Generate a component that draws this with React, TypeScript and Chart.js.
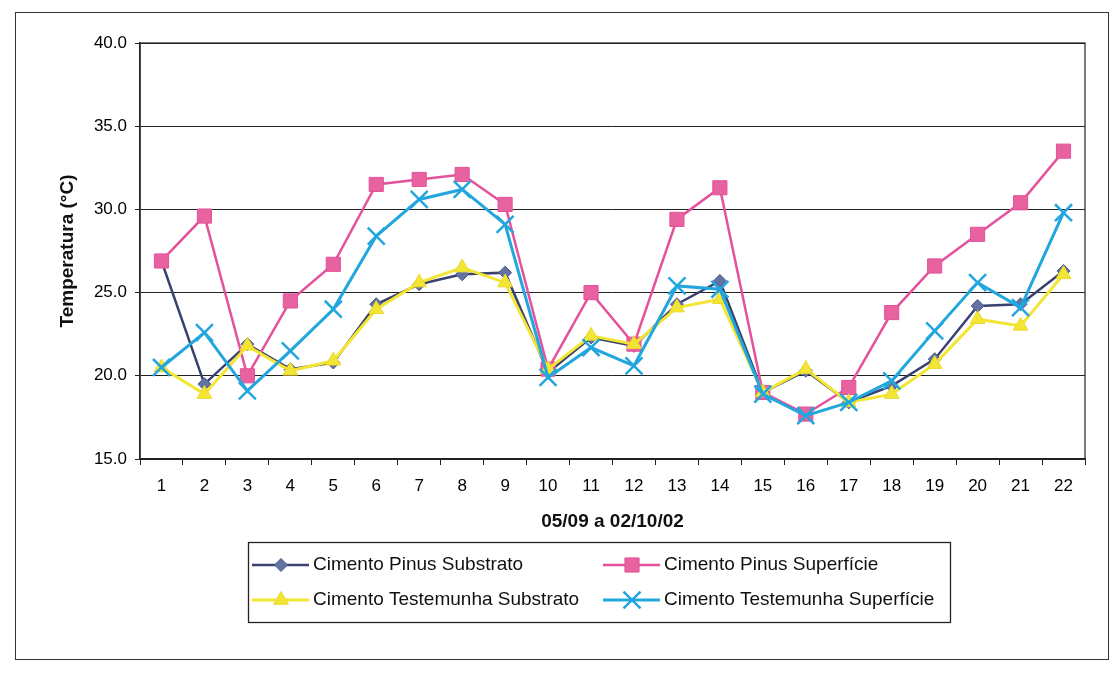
import React, { useEffect, useRef } from 'react';
import { Chart, registerables } from 'chart.js';

Chart.register(...registerables);

// ---- data ----
const categories = ['1','2','3','4','5','6','7','8','9','10','11','12','13','14','15','16','17','18','19','20','21','22'];
const pinusSubstrato = [26.9, 19.5, 21.9, 20.4, 20.8, 24.3, 25.5, 26.1, 26.2, 20.2, 22.3, 21.8, 24.3, 25.7, 19.0, 20.3, 18.4, 19.4, 21.0, 24.2, 24.3, 26.3];
const pinusSuperficie = [26.9, 29.6, 20.0, 24.5, 26.7, 31.5, 31.8, 32.1, 30.3, 20.4, 25.0, 21.9, 29.4, 31.3, 19.0, 17.7, 19.3, 23.8, 26.6, 28.5, 30.4, 33.5];
const testemunhaSubstrato = [20.5, 18.9, 21.8, 20.3, 20.9, 24.0, 25.6, 26.5, 25.6, 20.4, 22.4, 21.9, 24.1, 24.6, 19.0, 20.4, 18.4, 18.9, 20.7, 23.4, 23.0, 26.1];
const testemunhaSuperficie = [20.5, 22.6, 19.1, 21.5, 24.0, 28.4, 30.6, 31.2, 29.1, 19.9, 21.7, 20.6, 25.4, 25.2, 18.9, 17.6, 18.4, 19.7, 22.7, 25.6, 24.1, 29.8];
const seriesNames = [
  'Cimento Pinus Substrato',
  'Cimento Pinus Superfície',
  'Cimento Testemunha Substrato',
  'Cimento Testemunha Superfície',
];
const yMin = 15;
const yMax = 40;
const yStep = 5;
const yTitle = 'Temperatura (°C)';
const xTitle = '05/09 a 02/10/02';

const FONT = '"Liberation Sans", Arial, sans-serif';
const TICK_FONT = '"Liberation Sans Narrow", "Arial Narrow", "Liberation Sans", Arial, sans-serif';

function drawMarker(ctx: CanvasRenderingContext2D, style: string, x: number, y: number, r: number, fill: string, stroke: string, lw: number) {
  ctx.save();
  ctx.fillStyle = fill;
  ctx.strokeStyle = stroke;
  ctx.lineWidth = lw;
  ctx.beginPath();
  if (style === 'rectRot') {
    ctx.moveTo(x, y - r); ctx.lineTo(x + r, y); ctx.lineTo(x, y + r); ctx.lineTo(x - r, y); ctx.closePath();
    ctx.fill(); ctx.stroke();
  } else if (style === 'rect') {
    const s = r * Math.SQRT1_2;
    ctx.rect(x - s, y - s, 2 * s, 2 * s);
    ctx.fill(); ctx.stroke();
  } else if (style === 'triangle') {
    for (let i = 0; i < 3; i++) {
      const a = (i * 2 * Math.PI) / 3;
      const px = x + Math.sin(a) * r;
      const py = y - Math.cos(a) * r;
      if (i === 0) ctx.moveTo(px, py); else ctx.lineTo(px, py);
    }
    ctx.closePath();
    ctx.fill(); ctx.stroke();
  } else if (style === 'crossRot') {
    const d = r * Math.SQRT1_2;
    ctx.moveTo(x - d, y - d); ctx.lineTo(x + d, y + d);
    ctx.moveTo(x - d, y + d); ctx.lineTo(x + d, y - d);
    ctx.stroke();
  }
  ctx.restore();
}

const frameLegendPlugin = {
  id: 'frameLegend',
  beforeDatasetsDraw(chart: any) {
    const { ctx, chartArea } = chart;
    ctx.save();
    ctx.strokeStyle = '#222';
    ctx.lineWidth = 1.2;
    ctx.strokeRect(chartArea.left, chartArea.top, chartArea.right - chartArea.left, chartArea.bottom - chartArea.top);
    ctx.restore();
  },
  afterDraw(chart: any) {
    const { ctx } = chart;
    const box = { x: 248, y: 542, w: 702, h: 80 };
    ctx.save();
    ctx.strokeStyle = '#222';
    ctx.lineWidth = 1.3;
    ctx.strokeRect(box.x + 0.5, box.y + 0.5, box.w, box.h);
    const cols = [252, 603];
    const rows = [565, 600];
    chart.data.datasets.forEach((ds: any, i: number) => {
      const cx = cols[i % 2];
      const cy = rows[Math.floor(i / 2)];
      ctx.save();
      ctx.strokeStyle = ds.borderColor;
      ctx.lineWidth = ds.borderWidth;
      ctx.beginPath();
      ctx.moveTo(cx, cy);
      ctx.lineTo(cx + 57, cy);
      ctx.stroke();
      ctx.restore();
      drawMarker(ctx, ds.pointStyle, cx + 29, cy, ds.pointRadius, ds.pointBackgroundColor, ds.pointBorderColor, ds.pointBorderWidth);
      ctx.fillStyle = '#111';
      ctx.font = `19px ${FONT}`;
      ctx.textBaseline = 'middle';
      ctx.textAlign = 'left';
      ctx.fillText(ds.label, cx + 61, cy);
    });
    ctx.restore();
  },
};

export default function App() {
  const ref = useRef<HTMLCanvasElement>(null);

  useEffect(() => {
    if (!ref.current) return;
    const chart = new Chart(ref.current, {
      type: 'line',
      data: {
        labels: categories,
        datasets: [
          {
            label: seriesNames[0],
            data: pinusSubstrato,
            borderColor: '#39426f',
            borderWidth: 2.5,
            pointStyle: 'rectRot',
            pointRadius: 6.5,
            pointBackgroundColor: '#6472a2',
            pointBorderColor: '#4e5b8c',
            pointBorderWidth: 1,
            tension: 0,
            order: 4,
          },
          {
            label: seriesNames[1],
            data: pinusSuperficie,
            borderColor: '#e3529b',
            borderWidth: 2.5,
            pointStyle: 'rect',
            pointRadius: 10,
            pointBackgroundColor: '#e8629f',
            pointBorderColor: '#e3529b',
            pointBorderWidth: 1,
            tension: 0,
            order: 3,
          },
          {
            label: seriesNames[2],
            data: testemunhaSubstrato,
            borderColor: '#f3e534',
            borderWidth: 3,
            pointStyle: 'triangle',
            pointRadius: 8.5,
            pointBackgroundColor: '#f3e534',
            pointBorderColor: '#ecd92c',
            pointBorderWidth: 1,
            tension: 0,
            order: 2,
          },
          {
            label: seriesNames[3],
            data: testemunhaSuperficie,
            borderColor: '#22a6de',
            borderWidth: 3,
            pointStyle: 'crossRot',
            pointRadius: 12,
            pointBackgroundColor: '#22a6de',
            pointBorderColor: '#22a6de',
            pointBorderWidth: 2.5,
            tension: 0,
            order: 1,
          },
        ],
      },
      options: {
        animation: false,
        responsive: false,
        maintainAspectRatio: false,
        events: [],
        layout: { padding: { left: 52, top: 43, right: 27, bottom: 134 } },
        plugins: {
          legend: { display: false },
          tooltip: { enabled: false },
          title: { display: false },
        },
        scales: {
          x: {
            type: 'category',
            offset: true,
            afterFit: (s: any) => { s.height = 80; },
            grid: {
              offset: true,
              drawOnChartArea: false,
              drawTicks: true,
              tickLength: 6,
              color: '#222',
              lineWidth: 1,
            },
            border: { display: true, color: '#222', width: 1.5 },
            ticks: {
              autoSkip: false,
              maxRotation: 0,
              padding: 11,
              color: '#000',
              font: { family: TICK_FONT, size: 17 },
            },
            title: {
              display: true,
              text: xTitle,
              color: '#111',
              font: { family: FONT, size: 19, weight: 'bold' },
              padding: { top: 0, bottom: 6 },
            },
          },
          y: {
            min: yMin,
            max: yMax,
            afterFit: (s: any) => { s.width = 88; },
            grid: {
              drawOnChartArea: true,
              drawTicks: true,
              tickLength: 5,
              color: '#222',
              lineWidth: 1,
            },
            border: { display: true, color: '#222', width: 1.5 },
            ticks: {
              stepSize: yStep,
              padding: 8,
              color: '#000',
              font: { family: TICK_FONT, size: 17 },
              callback: (v: any) => Number(v).toFixed(1),
            },
            title: {
              display: true,
              text: yTitle,
              color: '#111',
              font: { family: FONT, size: 19, weight: 'bold' },
              padding: { top: 4, bottom: 0 },
            },
          },
        },
      },
      plugins: [frameLegendPlugin],
    } as any);
    return () => chart.destroy();
  }, []);

  return (
    <div style={{ position: 'absolute', left: 0, top: 0, width: 1112, height: 673, overflow: 'hidden', background: '#fff' }}>
      <div style={{ position: 'absolute', left: 15, top: 12, width: 1092, height: 646, border: '1.5px solid #333' }} />
      <canvas ref={ref} width={1112} height={673} style={{ position: 'absolute', left: 0, top: 0, width: 1112, height: 673 }} />
    </div>
  );
}
